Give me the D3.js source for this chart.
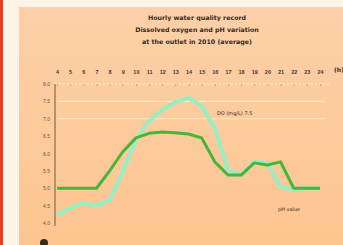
<!DOCTYPE html>
<html>
<head>
<meta charset="utf-8">
<script src="https://cdn.jsdelivr.net/npm/d3@7"></script>
<style>
  body { margin: 0; background: #fdf3e6; }
  svg { display: block; font-family: "DejaVu Sans", sans-serif; }
</style>
</head>
<body>
<svg width="343" height="245"></svg>
<script>
// hours along the top
const hours = ["4","5","6","7","8","9","10","11","12","13","14","15","16","17","18","19","20","21","22","23","24"];
// two series
const seriesA = [5.0, 5.0, 5.0, 5.0, 5.5, 6.05, 6.45, 6.58, 6.62, 6.6, 6.56, 6.45, 5.76, 5.38, 5.38, 5.73, 5.67, 5.76, 5.0, 5.0, 5.0];
const seriesB = [4.23, 4.43, 4.58, 4.5, 4.66, 5.47, 6.39, 6.94, 7.25, 7.48, 7.6, 7.37, 6.73, 5.53, 5.38, 5.76, 5.73, 5.04, 4.96, 5.0, 5.0];
const yTicks = [4.0, 4.5, 5.0, 5.5, 6.0, 6.5, 7.0, 7.5, 8.0];
const refLines = [7.5, 7.0];
const titleLines = ["Hourly water quality record", "Dissolved oxygen and pH variation", "at the outlet in 2010 (average)"];

const svg = d3.select("svg");

// red edge + panel
svg.append("rect").attr("x", 0).attr("y", 0).attr("width", 3).attr("height", 245).attr("fill", "#e8401c");
const grad = svg.append("defs").append("linearGradient").attr("id", "bg").attr("x1", 0).attr("y1", 0).attr("x2", 0).attr("y2", 1);
grad.append("stop").attr("offset", "0%").attr("stop-color", "#fcd0a8");
grad.append("stop").attr("offset", "100%").attr("stop-color", "#fdc590");
svg.append("rect").attr("x", 19).attr("y", 7).attr("width", 324).attr("height", 238).attr("fill", "url(#bg)");

svg.append("g").selectAll("text").data(titleLines).join("text")
  .attr("x", 197).attr("y", (d, i) => 20 + i * 12)
  .attr("text-anchor", "middle").attr("font-size", 6.3).attr("font-weight", "bold").attr("fill", "#3a2a1a")
  .text(d => d);

const x = d3.scalePoint().domain(hours).range([57, 320]);
const y = d3.scaleLinear().domain([4, 8]).range([223, 84]);

// reference lines
svg.append("g").selectAll("line").data(refLines).join("line")
  .attr("x1", 57).attr("x2", 325).attr("y1", d => y(d)).attr("y2", d => y(d))
  .attr("stroke", "#feeab8").attr("stroke-width", 1.2);

// top axis
const topAxis = svg.append("g").attr("transform", "translate(0,84)")
  .call(d3.axisTop(x).tickSize(-2).tickPadding(10));
topAxis.select(".domain").attr("stroke", "#fff1dc").attr("stroke-dasharray", "2,2").attr("d", "M55,0H330");
topAxis.selectAll(".tick line").attr("stroke", "#c9a27c");
topAxis.selectAll(".tick text").attr("font-size", 5.5).attr("font-weight", "bold").attr("fill", "#4a3828");
svg.append("text").attr("x", 334).attr("y", 72).attr("font-size", 6).attr("font-weight", "bold").attr("fill", "#3a2a1a").text("(h)");

// left axis
const leftAxis = svg.append("g").attr("transform", "translate(55,0)")
  .call(d3.axisLeft(y).tickValues(yTicks).tickFormat(d3.format(".1f")).tickSize(0).tickPadding(5));
leftAxis.select(".domain").attr("stroke", "#8a6a4a").attr("stroke-width", 1.2).attr("d", "M0,84V226");
leftAxis.selectAll(".tick text").attr("font-size", 5).attr("fill", "#6a5848");

const line = d3.line().x((d, i) => x(hours[i])).y(d => y(d));
svg.append("path").datum(seriesB).attr("d", line).attr("fill", "none")
  .attr("stroke", "#96eec4").attr("stroke-width", 4).attr("stroke-linejoin", "round");
svg.append("path").datum(seriesA).attr("d", line).attr("fill", "none")
  .attr("stroke", "#45b53c").attr("stroke-width", 3).attr("stroke-linejoin", "round");

svg.append("text").attr("x", 217).attr("y", 115).attr("font-size", 5).attr("fill", "#3a2a1a").text("DO (mg/L) 7.5");
svg.append("text").attr("x", 278).attr("y", 211).attr("font-size", 5).attr("fill", "#3a2a1a").text("pH value");

// partial logo at bottom left
svg.append("circle").attr("cx", 44).attr("cy", 243).attr("r", 4).attr("fill", "#3a2a1a");
</script>
</body>
</html>
